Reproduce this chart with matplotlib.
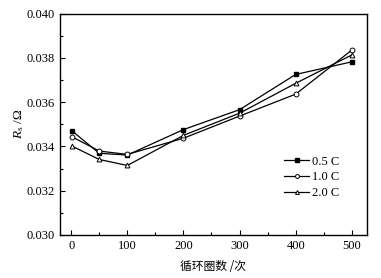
import matplotlib
matplotlib.use('Agg')
import matplotlib.pyplot as plt
from matplotlib.ticker import MultipleLocator

plt.rcParams['font.family'] = ['Liberation Serif', 'Noto Sans CJK SC']
plt.rcParams['mathtext.fontset'] = 'custom'
plt.rcParams['mathtext.rm'] = 'Liberation Serif'
plt.rcParams['mathtext.it'] = 'Liberation Serif:italic'

cycles = [1, 50, 100, 200, 300, 400, 500]
r_05c = [0.03471, 0.03369, 0.03361, 0.03476, 0.03566, 0.03725, 0.03782]
r_10c = [0.03444, 0.03379, 0.03364, 0.03437, 0.03537, 0.03636, 0.03835]
r_20c = [0.03402, 0.03341, 0.03314, 0.03450, 0.03550, 0.03685, 0.03813]
labels = ['0.5 C', '1.0 C', '2.0 C']

fig = plt.figure(figsize=(3.81, 2.78), dpi=100)
ax = fig.add_axes([0.1575, 0.1547, 0.8055, 0.7965])

ax.plot(cycles, r_05c, 'k-', marker='s', ms=3.5, mfc='black', lw=0.9, label=labels[0])
ax.plot(cycles, r_10c, 'k-', marker='o', ms=3.5, mfc='white', mew=0.7, lw=0.9, label=labels[1])
ax.plot(cycles, r_20c, 'k-', marker='^', ms=3.5, mfc='white', mew=0.7, lw=0.9, label=labels[2])

ax.set_xlim(-20, 527)
ax.set_ylim(0.030, 0.040)
ax.xaxis.set_major_locator(MultipleLocator(100))
ax.xaxis.set_minor_locator(MultipleLocator(50))
ax.yaxis.set_major_locator(MultipleLocator(0.002))
ax.yaxis.set_minor_locator(MultipleLocator(0.001))
ax.yaxis.set_major_formatter(plt.FormatStrFormatter('%.3f'))
ax.tick_params(which='both', direction='in', top=False, right=False, labelsize=9, width=0.8)
ax.tick_params(which='major', length=3.5)
ax.tick_params(which='minor', length=2)
for s in ax.spines.values():
    s.set_linewidth(1)

ax.set_xlabel('循环圈数 /次', fontsize=8.5, family=['Noto Sans CJK SC', 'DejaVu Sans'], labelpad=6)
ax.set_ylabel(r'$R_\mathrm{s}$ /Ω', fontsize=9.5, labelpad=1)

ax.legend(loc='center right', bbox_to_anchor=(0.93, 0.26), frameon=False, fontsize=9,
          handlelength=2.0, handletextpad=0.2, labelspacing=0.3, borderpad=0, markerscale=0.8)

fig.savefig('out.png', dpi=100)
